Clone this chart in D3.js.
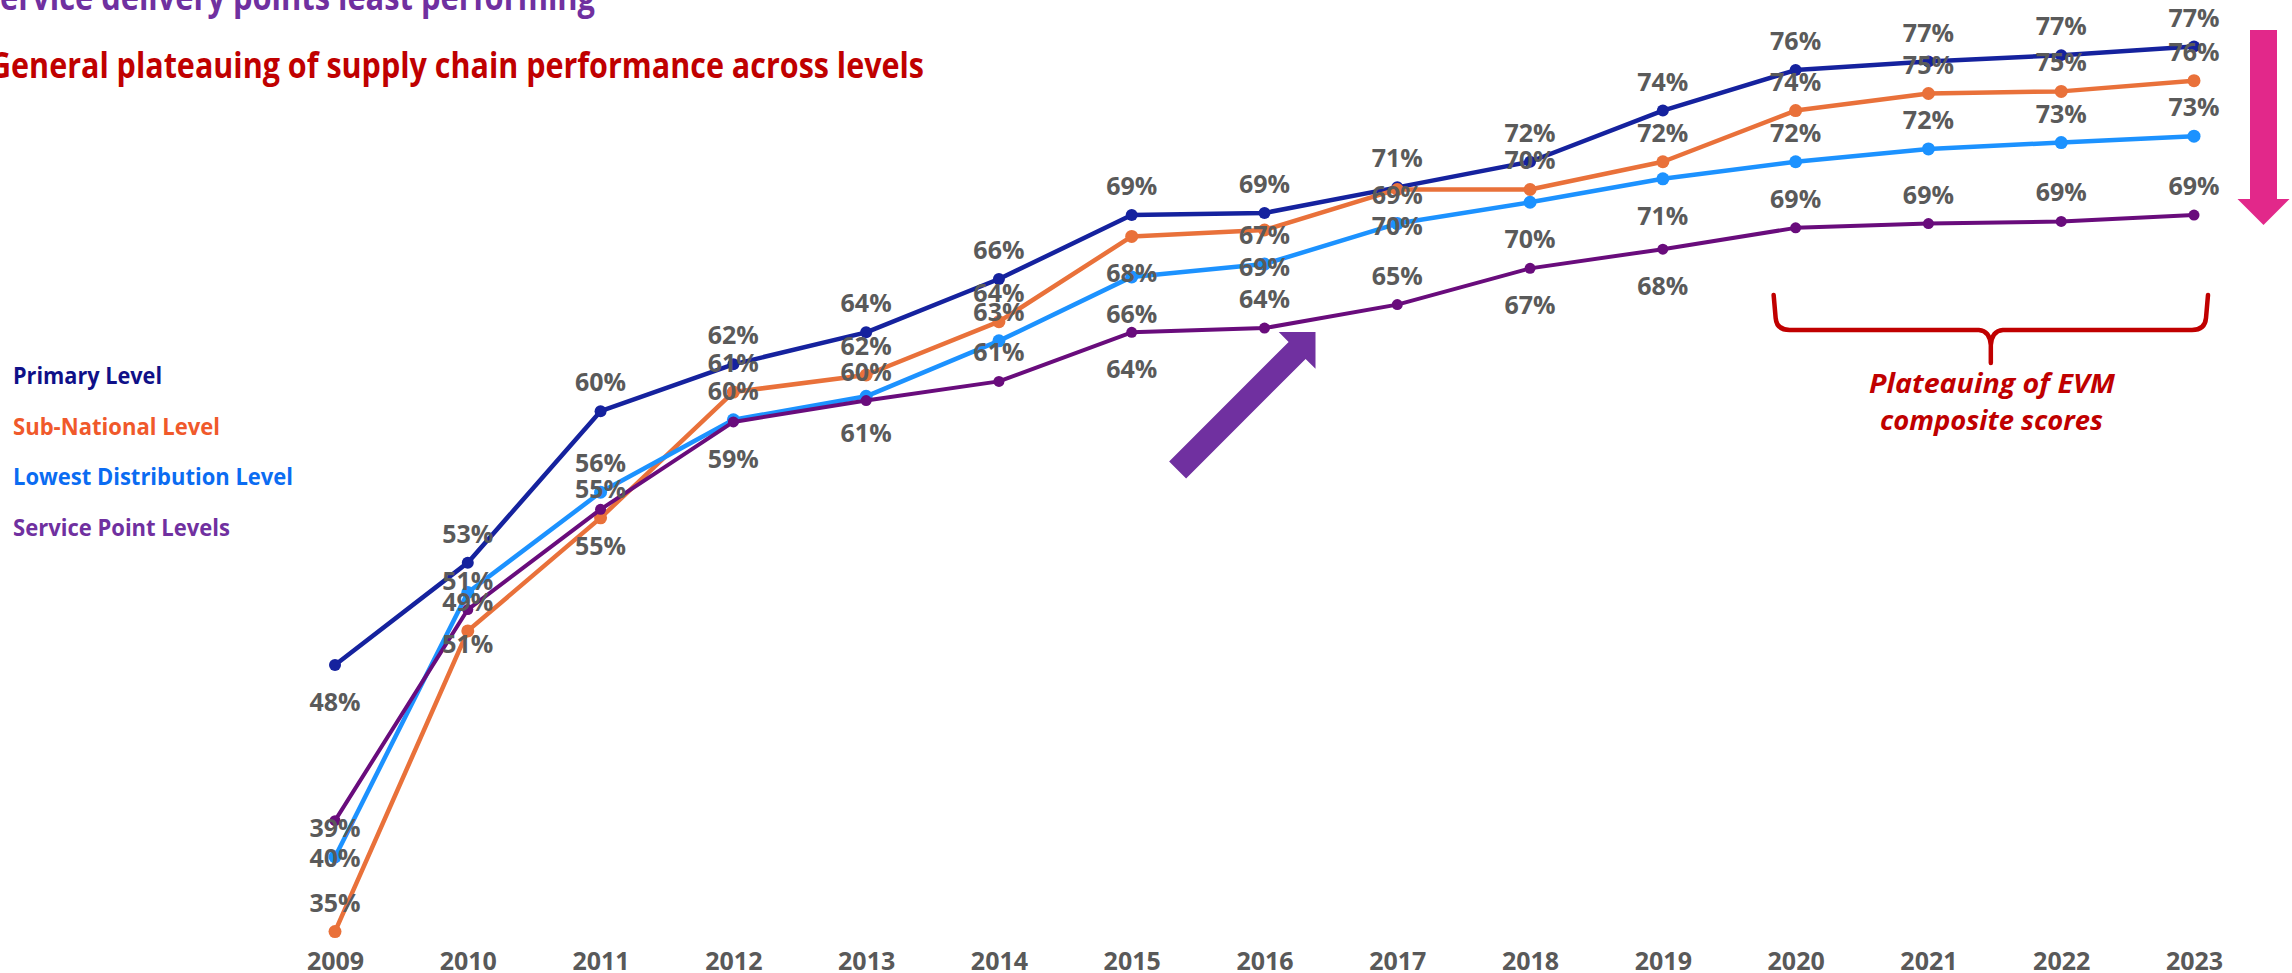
<!DOCTYPE html>
<html>
<head>
<meta charset="utf-8">
<script src="https://cdn.jsdelivr.net/npm/d3@7"></script>
<style>
  body { margin: 0; background: #fff; }
  svg { display: block; font-family: "Open Sans", "Noto Sans", sans-serif; }
</style>
</head>
<body>
<div id="wrapper"></div>
<script>
// years on the x axis
const years = ["2009","2010","2011","2012","2013","2014","2015","2016","2017","2018","2019","2020","2021","2022","2023"]

// EVM composite scores (%)
const primary      = [48.0, 52.8, 59.9, 62.1, 63.6, 66.1, 69.1, 69.2, 70.4, 71.6, 74.0, 75.9, 76.3, 76.6, 77.0]
const subNational  = [35.5, 49.6, 54.9, 60.8, 61.6, 64.1, 68.1, 68.4, 70.3, 70.3, 71.6, 74.0, 74.8, 74.9, 75.4]
const lowestDist   = [39.0, 51.4, 56.1, 59.5, 60.6, 63.2, 66.2, 66.8, 68.7, 69.7, 70.8, 71.6, 72.2, 72.5, 72.8]
const servicePoint = [40.7, 50.6, 55.3, 59.4, 60.4, 61.3, 63.6, 63.8, 64.9, 66.6, 67.5, 68.5, 68.7, 68.8, 69.1]

// data labels as printed on the chart
const primaryLabels = ["48%","53%","60%","62%","64%","66%","69%","69%","71%","72%","74%","76%","77%","77%","77%"]
const subLabels     = ["35%","49%","55%","61%","62%","64%","68%","69%","70%","70%","72%","74%","75%","75%","76%"]
const lowestLabels  = ["39%","51%","56%","60%","61%","63%","66%","67%","69%","70%","71%","72%","72%","73%","73%"]
const serviceLabels = ["40%","51%","55%","59%","60%","61%","64%","64%","65%","67%","68%","69%","69%","69%","69%"]

const legendNames = ["Primary Level", "Sub-National Level", "Lowest Distribution Level", "Service Point Levels"]

// label placement: a = above the point, b = below, B = further below
const placement = {
  primary: "baaaaaaaaaaaaaa",
  sub:     "aaaaaabbbaaaaaa",
  lowest:  "aBaababaabbaaaa",
  service: "babbaabaabbaaaa",
}
const labelOffset = { a: -29, b: 37, B: 52 }

const series = [
  { key: "primary", values: primary,      labels: primaryLabels, color: "#15229e", width: 4.5, r: 6 },
  { key: "sub",     values: subNational,  labels: subLabels,     color: "#e9713a", width: 4.5, r: 6.5 },
  { key: "lowest",  values: lowestDist,   labels: lowestLabels,  color: "#1c92ff", width: 4.5, r: 6.5 },
  { key: "service", values: servicePoint, labels: serviceLabels, color: "#690c7c", width: 4,   r: 5.5 },
]
const legendColors = ["#0f1088", "#f0592b", "#0b6cf2", "#7030a0"]

const width = 2292
const height = 973

const svg = d3.select("#wrapper")
  .append("svg")
  .attr("width", width)
  .attr("height", height)

svg.append("rect").attr("width", width).attr("height", height).attr("fill", "#fff")

const xScale = d3.scalePoint()
  .domain(years)
  .range([335, 2194])

const yScale = d3.scaleLinear()
  .domain([48, 77])
  .range([665, 46.6])

// headings (partly cut off at the left edge, as in the slide)
svg.append("text")
  .attr("x", -17).attr("y", 10)
  .attr("textLength", 612).attr("lengthAdjust", "spacingAndGlyphs")
  .style("font-size", "36px").style("font-weight", 700)
  .attr("fill", "#7030a0")
  .text("Service delivery points least performing")

svg.append("text")
  .attr("x", -11).attr("y", 78)
  .attr("textLength", 935).attr("lengthAdjust", "spacingAndGlyphs")
  .style("font-size", "36px").style("font-weight", 700)
  .attr("fill", "#c00000")
  .text("General plateauing of supply chain performance across levels")

// legend
const legendWidths = [149, 207, 280, 217]
svg.append("g").selectAll("text")
  .data(legendNames)
  .join("text")
  .attr("x", 13)
  .attr("y", (d, i) => 384 + i * 50.7)
  .attr("textLength", (d, i) => legendWidths[i])
  .attr("lengthAdjust", "spacingAndGlyphs")
  .style("font-size", "23px").style("font-weight", 700)
  .attr("fill", (d, i) => legendColors[i])
  .text(d => d)

// x axis, labels only
const xAxis = svg.append("g")
  .attr("transform", "translate(0, 944)")
  .call(d3.axisBottom(xScale).tickSize(0).tickPadding(0))
xAxis.select(".domain").remove()
xAxis.selectAll("text")
  .attr("dy", "0")
  .attr("y", 26)
  .style("font-size", "25px")
  .style("font-weight", 700)
  .style("font-family", "\"Open Sans\", sans-serif")
  .attr("fill", "#595959")

// lines and markers
const line = d3.line()
  .x((d, i) => xScale(years[i]))
  .y(d => yScale(d))

const linesGroup = svg.append("g")
series.forEach(s => {
  const g = linesGroup.append("g")
  g.append("path")
    .datum(s.values)
    .attr("d", line)
    .attr("fill", "none")
    .attr("stroke", s.color)
    .attr("stroke-width", s.width)
    .attr("stroke-linejoin", "round")
  g.selectAll("circle")
    .data(s.values)
    .join("circle")
    .attr("cx", (d, i) => xScale(years[i]))
    .attr("cy", d => yScale(d))
    .attr("r", s.r)
    .attr("fill", s.color)
})

// data labels
const labelsGroup = svg.append("g")
series.forEach(s => {
  labelsGroup.selectAll(null)
    .data(s.values)
    .join("text")
    .attr("x", (d, i) => xScale(years[i]))
    .attr("y", (d, i) => yScale(d) + labelOffset[placement[s.key][i]] + 9)
    .attr("text-anchor", "middle")
    .style("font-size", "25px")
    .style("font-weight", 700)
    .attr("fill", "#5a5a5a")
    .text((d, i) => s.labels[i])
})

// purple arrow pointing at the service point flattening (2016)
const tip = [xScale("2016") + 51, yScale(servicePoint[7]) + 4]
const arrowLen = 195, headLen = 26, headHalf = 26, shaftHalf = 12
function arrowPath(tip, angle) {
  // angle: direction the arrow points to, radians
  const ux = Math.cos(angle), uy = Math.sin(angle)
  const nx = -uy, ny = ux
  const bx = tip[0] - ux * headLen, by = tip[1] - uy * headLen
  const tx = tip[0] - ux * arrowLen, ty = tip[1] - uy * arrowLen
  const pts = [
    tip,
    [bx + nx * headHalf, by + ny * headHalf],
    [bx + nx * shaftHalf, by + ny * shaftHalf],
    [tx + nx * shaftHalf, ty + ny * shaftHalf],
    [tx - nx * shaftHalf, ty - ny * shaftHalf],
    [bx - nx * shaftHalf, by - ny * shaftHalf],
    [bx - nx * headHalf, by - ny * headHalf],
  ]
  return "M" + pts.map(p => p.join(",")).join("L") + "Z"
}
svg.append("path")
  .attr("d", arrowPath(tip, -Math.PI / 4))
  .attr("fill", "#7030a0")

// pink downward arrow at the right
svg.append("path")
  .attr("d", (() => {
    const x = 2263.5, top = 30, tipY = 225
    const base = tipY - 26
    return `M${x - 13.5},${top}L${x + 13.5},${top}L${x + 13.5},${base}L${x + 26},${base}L${x},${tipY}L${x - 26},${base}L${x - 13.5},${base}Z`
  })())
  .attr("fill", "#e2288a")

// brace under 2020-2023
const bl = xScale("2020") - 22, br = xScale("2023") + 14, bm = (bl + br) / 2
svg.append("path")
  .attr("d", `M${bl},295 L${bl + 2},318 Q${bl + 3},330 ${bl + 16},330 L${bm - 12},330 Q${bm - 1},331 ${bm},345 L${bm},363
              M${bm},345 Q${bm + 1},331 ${bm + 12},330 L${br - 16},330 Q${br - 3},330 ${br - 2},318 L${br},295`)
  .attr("fill", "none")
  .attr("stroke", "#c00000")
  .attr("stroke-width", 4.5)
  .attr("stroke-linecap", "round")

const note = svg.append("g")
  .style("font-size", "26px").style("font-weight", 700).style("font-style", "italic")
  .attr("fill", "#c00000")
note.append("text")
  .attr("x", 1869).attr("y", 393)
  .attr("textLength", 246).attr("lengthAdjust", "spacingAndGlyphs")
  .text("Plateauing of EVM")
note.append("text")
  .attr("x", 1880).attr("y", 430)
  .attr("textLength", 223).attr("lengthAdjust", "spacingAndGlyphs")
  .text("composite scores")
</script>
</body>
</html>
